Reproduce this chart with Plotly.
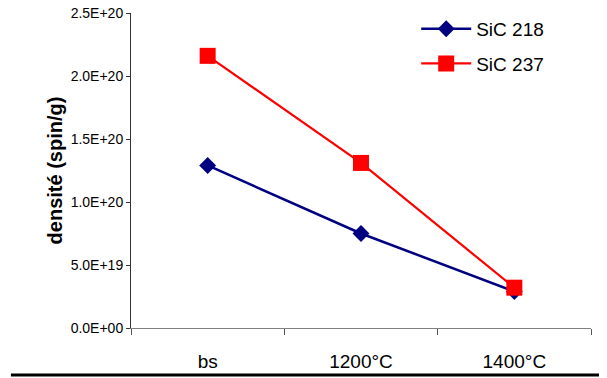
import plotly.graph_objects as go

categories = ["bs", "1200°C", "1400°C"]
sic218 = [1.29e20, 7.5e19, 2.9e19]
sic237 = [2.16e20, 1.31e20, 3.2e19]
y_tick_vals = [0, 5e19, 1e20, 1.5e20, 2e20, 2.5e20]
y_tick_text = ["0.0E+00", "5.0E+19", "1.0E+20", "1.5E+20", "2.0E+20", "2.5E+20"]

fig = go.Figure()
fig.add_trace(go.Scatter(
    x=categories, y=sic218, name="SiC 218", mode="lines+markers",
    line=dict(color="#000080", width=2.5),
    marker=dict(symbol="diamond", size=13, color="#000080"),
    legendgroup="a",
))
fig.add_trace(go.Scatter(
    x=categories, y=sic237, name="SiC 237", mode="lines+markers",
    line=dict(color="#FF0000", width=2.2),
    marker=dict(symbol="square", size=16, color="#FF0000"),
    legendgroup="b",
))

fig.update_layout(
    width=599, height=370,
    margin=dict(l=123, r=16, t=5, b=50, autoexpand=False),
    paper_bgcolor="white", plot_bgcolor="white",
    font=dict(family="Liberation Sans, Arial, sans-serif", color="black"),
    showlegend=True,
    legend=dict(
        x=0.62, y=1.01, xanchor="left", yanchor="top",
        font=dict(size=19, color="black"),
        tracegroupgap=7, traceorder="grouped", itemwidth=50,
        bgcolor="rgba(0,0,0,0)",
    ),
    xaxis=dict(
        type="category", range=[-0.5, 2.5], automargin=False,
        showline=True, linecolor="#808080", linewidth=1,
        ticks="outside", tickson="boundaries", ticklen=6, tickcolor="#555",
        tickfont=dict(size=19), showgrid=False, zeroline=False,
        ticklabelstandoff=16,
    ),
    yaxis=dict(
        range=[0, 2.50001e20], automargin=False,
        tickvals=y_tick_vals, ticktext=y_tick_text,
        ticklabeloverflow="allow",
        showline=True, linecolor="#333", linewidth=1,
        ticks="outside", ticklen=4, tickcolor="#333",
        tickfont=dict(size=14), showgrid=False, zeroline=False,
        title=dict(text="<b>densité (spin/g)</b>", font=dict(size=20), standoff=2),
    ),
    shapes=[dict(
        type="line", xref="paper", yref="paper",
        x0=-0.261, x1=1.04, y0=-0.149, y1=-0.149,
        line=dict(color="black", width=3),
    )],
)

fig.write_html("out.html")
